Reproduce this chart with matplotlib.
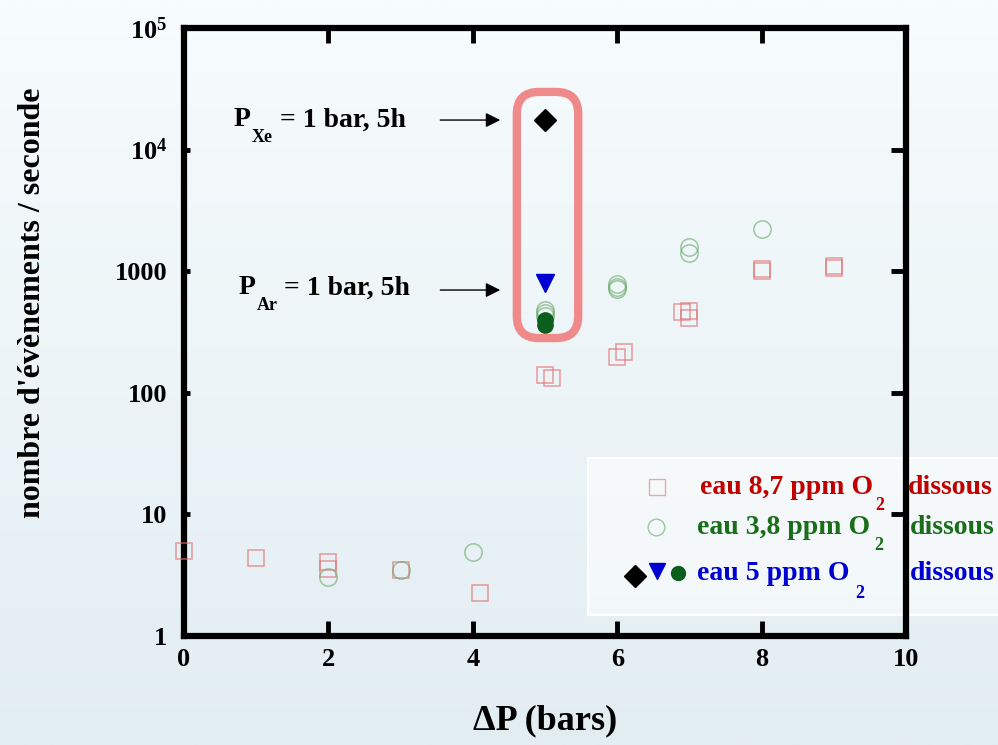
import numpy as np
import matplotlib
matplotlib.use("Agg")
import matplotlib.pyplot as plt
from matplotlib.patches import FancyBboxPatch, Rectangle
from matplotlib.lines import Line2D
from matplotlib.transforms import IdentityTransform

plt.rcParams['font.family'] = ['Liberation Serif', 'DejaVu Serif']
plt.rcParams['font.weight'] = 'bold'
plt.rcParams['mathtext.fontset'] = 'custom'
plt.rcParams['mathtext.rm'] = 'Liberation Serif:bold'
plt.rcParams['mathtext.bf'] = 'Liberation Serif:bold'
plt.rcParams['mathtext.it'] = 'Liberation Serif:bold:italic'

# --- data ---------------------------------------------------------------
# water with 8.7 ppm dissolved O2 (open squares)
dp_87 = [0.0, 1.0, 2.0, 2.0, 3.0, 4.1, 5.0, 5.1, 6.0, 6.1, 6.9, 7.0, 7.0, 8.0, 8.0, 9.0, 9.0]
rate_87 = [5.0, 4.4, 4.05, 3.55, 3.5, 2.25, 140, 132, 197, 215, 460, 470, 412, 1000, 1050, 1100, 1060]

# water with 3.8 ppm dissolved O2 (open circles)
dp_38 = [2.0, 3.0, 4.0, 5.0, 5.0, 5.0, 6.0, 6.0, 6.0, 7.0, 7.0, 8.0]
rate_38 = [3.06, 3.5, 4.9, 480, 450, 430, 780, 745, 720, 1580, 1420, 2220]

# water with 5 ppm dissolved O2 after 5 h under 1 bar of gas
dp_xe = [5.0]
rate_xe = [17500]
dp_ar = [5.0]
rate_ar = [800]
dp_5 = [5.0, 5.0]
rate_5 = [400, 360]

# arrow targets for the gas annotations
arrow_xe = 17500
arrow_ar = 700

xticks = [0, 2, 4, 6, 8, 10]
yticks = [1, 10, 100, 1000, 1e4, 1e5]
ytick_labels = ['1', '10', '100', '1000', r'$\mathregular{10^{4}}$', r'$\mathregular{10^{5}}$']

RED = '#c00000'
GREEN = '#1a6e1a'
BLUE = '#0000d0'

W, H = 998, 745
fig = plt.figure(figsize=(W / 100, H / 100), dpi=100)

# soft vertical gradient behind everything
bg = fig.add_axes([0, 0, 1, 1], zorder=-10)
top = np.array([247, 252, 253]) / 255
bot = np.array([226, 237, 242]) / 255
t = np.linspace(0, 1, 256)[:, None]
grad = top[None, :] * (1 - t) + bot[None, :] * t
bg.imshow(grad[:, None, :], aspect='auto', extent=[0, 1, 0, 1])
bg.axis('off')
fig.patch.set_facecolor(top)


def px(x, y):
    return x / W, 1 - y / H


# legend panel sits under the axes frame
leg = Rectangle(px(588, 615), (1010 - 588) / W, (615 - 458) / H,
                transform=fig.transFigure, fc=(1, 1, 1, 0.55), ec='white', lw=1.5,
                zorder=-5)
fig.add_artist(leg)

ax = fig.add_axes([184 / W, 1 - 636 / H, (906 - 184) / W, (636 - 28) / H])
ax.set_facecolor('none')
ax.set_yscale('log')
ax.set_xlim(0, 10)
ax.set_ylim(1, 1e5)

ax.plot(dp_87, rate_87, ls='none', marker='s', ms=11.5, mfc='none',
        mec=(0.88, 0.45, 0.45, 0.7), mew=1.1, zorder=3, clip_on=False)
ax.plot(dp_38, rate_38, ls='none', marker='o', ms=12.5, mfc='none',
        mec=(0.40, 0.65, 0.40, 0.6), mew=1.1, zorder=3, clip_on=False)
ax.plot(dp_5, rate_5, ls='none', marker='o', ms=11, mfc='#0b5e1c',
        mec='#0b5e1c', zorder=4)
ax.plot(dp_ar, rate_ar, ls='none', marker='v', ms=13, mfc=BLUE, mec=BLUE, zorder=4)
ax.plot(dp_xe, rate_xe, ls='none', marker='D', ms=11, mfc='black', mec='black', zorder=4)

ax.set_xticks(xticks)
ax.set_xticklabels([str(v) for v in xticks])
ax.set_yticks(yticks)
ax.set_yticklabels(ytick_labels)
ax.minorticks_off()
ax.tick_params(axis='both', which='major', direction='in', length=11, width=3.5,
               labelsize=19, top=True, right=True)
ax.tick_params(axis='x', pad=9)
ax.tick_params(axis='y', pad=12)
for tk in ax.yaxis.get_major_ticks():
    tk.tick1line.set_markersize(4)
for s in ax.spines.values():
    s.set_linewidth(4.5)
for lbl in ax.get_xticklabels() + ax.get_yticklabels():
    lbl.set_fontweight('bold')

ax.set_xlabel('ΔP (bars)', fontsize=26, fontweight='bold')
ax.xaxis.set_label_coords(0.5, -0.113)
ax.set_ylabel("nombre d'évènements / seconde", fontsize=23, fontweight='bold')
ax.yaxis.set_label_coords(-0.19, 0.548)

# arrows pointing to the 1 bar / 5 h measurements
for yv in (arrow_xe, arrow_ar):
    ax.annotate('', xy=(4.38, yv), xytext=(3.55, yv),
                arrowprops=dict(arrowstyle='-|>', lw=1.0, color='black',
                                mutation_scale=22, shrinkA=0, shrinkB=0))

fs_ann = 20
fig.text(*px(234, 120), 'P', fontsize=fs_ann, fontweight='bold', va='center')
fig.text(*px(252, 138), 'Xe', fontsize=13, fontweight='bold', va='center')
fig.text(*px(280, 120), '= 1 bar, 5h', fontsize=fs_ann, fontweight='bold', va='center')
fig.text(*px(239, 288), 'P', fontsize=fs_ann, fontweight='bold', va='center')
fig.text(*px(257, 305), 'Ar', fontsize=13, fontweight='bold', va='center')
fig.text(*px(284, 288), '= 1 bar, 5h', fontsize=fs_ann, fontweight='bold', va='center')

# rounded frame around the ΔP = 5 bar gas measurements
fig.canvas.draw()
(x0, y0) = ax.transData.transform((4.61, 282))
(x1, y1) = ax.transData.transform((5.46, 29800))
frame = FancyBboxPatch((x0, y0), x1 - x0, y1 - y0,
                       boxstyle='round,pad=0,rounding_size=22',
                       fc='none', ec='#f08a8a', lw=6, transform=IdentityTransform(),
                       zorder=5)
fig.add_artist(frame)


def legend_marker(x, y, **kw):
    fig.add_artist(Line2D([x / W], [1 - y / H], transform=fig.transFigure,
                          ls='none', zorder=7, **kw))


legend_marker(657, 487, marker='s', ms=11.5, mfc='none', mec=(0.88, 0.45, 0.45, 0.6), mew=1.0)
legend_marker(656, 527, marker='o', ms=12, mfc='none', mec=(0.40, 0.65, 0.40, 0.6), mew=1.0)
legend_marker(635, 576, marker='D', ms=11, mfc='black', mec='black')
legend_marker(657, 571, marker='v', ms=12, mfc=BLUE, mec=BLUE)
legend_marker(678, 573, marker='o', ms=10, mfc='#0b5e1c', mec='#0b5e1c')

fs_leg = 20
rows = [(700, 487, 'eau 8,7 ppm O', 875, 505, 908, RED),
        (697, 527, 'eau 3,8 ppm O', 874, 546, 910, GREEN),
        (697, 574, 'eau 5 ppm O', 855, 594, 910, BLUE)]
for tx, ty, txt, sx, sy, dx, col in rows:
    fig.text(*px(tx, ty), txt, fontsize=fs_leg, fontweight='bold', color=col,
             va='center', zorder=8)
    fig.text(*px(sx, sy), '2', fontsize=13, fontweight='bold', color=col,
             va='center', zorder=8)
    fig.text(*px(dx, ty), 'dissous', fontsize=fs_leg, fontweight='bold', color=col,
             va='center', zorder=8)

fig.savefig('out.png', dpi=100)
